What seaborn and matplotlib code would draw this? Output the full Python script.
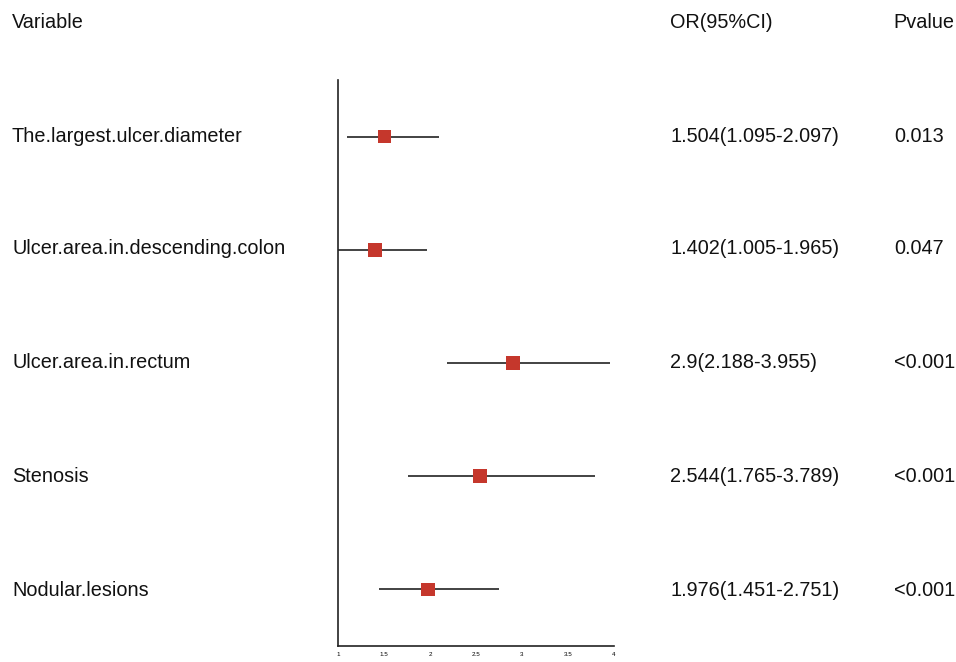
import matplotlib
matplotlib.use("Agg")
import matplotlib.pyplot as plt
import seaborn as sns
import pandas as pd

variables = ["The.largest.ulcer.diameter", "Ulcer.area.in.descending.colon",
             "Ulcer.area.in.rectum", "Stenosis", "Nodular.lesions"]
odds_ratio = [1.504, 1.402, 2.9, 2.544, 1.976]
ci_low = [1.095, 1.005, 2.188, 1.765, 1.451]
ci_high = [2.097, 1.965, 3.955, 3.789, 2.751]
or_text = ["1.504(1.095-2.097)", "1.402(1.005-1.965)", "2.9(2.188-3.955)",
           "2.544(1.765-3.789)", "1.976(1.451-2.751)"]
p_text = ["0.013", "0.047", "<0.001", "<0.001", "<0.001"]
x_ticks = [1, 1.5, 2, 2.5, 3, 3.5, 4]
x_tick_labels = ["1", "1.5", "2", "2.5", "3", "3.5", "4"]

df = pd.DataFrame({"variable": variables, "OR": odds_ratio,
                   "low": ci_low, "high": ci_high,
                   "row": range(1, len(variables) + 1)})

sns.set_theme(style="white")
plt.rcParams["font.family"] = ["Liberation Sans", "DejaVu Sans"]

W, H = 956, 662
fig = plt.figure(figsize=(W / 100, H / 100), dpi=100)
ax = fig.add_axes([338 / W, (H - 646) / H, (614 - 338) / W, (646 - 80) / H])

# confidence intervals and point estimates
ax.hlines(df["row"], df["low"], df["high"], color="#222222", lw=1.2, zorder=2)
sns.scatterplot(data=df, x="OR", y="row", marker="s", s=95,
                color="#c5372c", edgecolor="none", ax=ax, zorder=3, legend=False)

ax.set_xlim(1, 4)
ax.set_ylim(5.5, 0.5)
ax.set_xticks(x_ticks)
ax.set_xticklabels(x_tick_labels, fontsize=4.5)
ax.set_yticks([])
ax.set_xlabel("")
ax.set_ylabel("")
ax.tick_params(axis="x", direction="out", length=3, width=0.8, pad=1, colors="black")
for side in ["top", "right"]:
    ax.spines[side].set_visible(False)
for side in ["left", "bottom"]:
    ax.spines[side].set_color("#222222")
    ax.spines[side].set_linewidth(1.2)

fs = 14.3
def fig_text(xpx, ypx, s):
    fig.text(xpx / W, 1 - ypx / H, s, fontsize=fs, va="center", ha="left", color="#111111")

fig_text(12, 22, "Variable")
fig_text(670, 22, "OR(95%CI)")
fig_text(893, 22, "Pvalue")

row_y = [136, 249, 363, 477, 590]
for y, v, o, p in zip(row_y, variables, or_text, p_text):
    fig_text(12, y, v)
    fig_text(670, y, o)
    fig_text(894, y, p)

fig.savefig("out.png", dpi=100)
